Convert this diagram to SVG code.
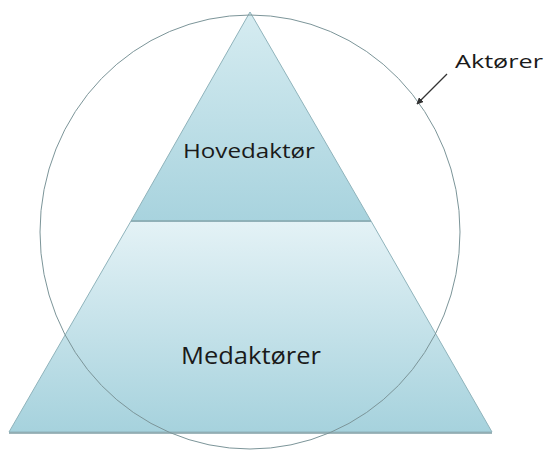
<svg xmlns="http://www.w3.org/2000/svg" width="548" height="454" viewBox="0 0 548 454">
<defs>
<linearGradient id="gTop" x1="0" y1="0" x2="0" y2="1">
<stop offset="0" stop-color="#d6ecf1"/>
<stop offset="1" stop-color="#a8d3de"/>
</linearGradient>
<linearGradient id="gBot" x1="0" y1="0" x2="0" y2="1">
<stop offset="0" stop-color="#e4f2f6"/>
<stop offset="1" stop-color="#a6d2dd"/>
</linearGradient>
<marker id="arr" viewBox="0 0 10 10" refX="9" refY="5" markerWidth="7" markerHeight="7" orient="auto" markerUnits="userSpaceOnUse">
<path d="M0,0 L10,5 L0,10 z" fill="#333"/>
</marker>
<style>
.lbl{font-family:"Open Sans","Liberation Sans",sans-serif;fill:#1a1a1a;text-anchor:middle}
.edge{stroke:#8fb3bb;stroke-width:1}
</style>
</defs>
<g id="medaktorer">
<polygon points="131,221 371,221 492,432 9,432" fill="url(#gBot)" class="edge"/>
<line x1="9" y1="433" x2="492" y2="433" stroke="#7f9ea5" stroke-width="1.5"/>
<text class="lbl" x="251" y="364" font-size="24" textLength="140" lengthAdjust="spacingAndGlyphs">Medaktører</text>
</g>
<g id="hovedaktor">
<polygon points="250,12 371,221 131,221" fill="url(#gTop)" class="edge"/>
<line x1="131" y1="221" x2="371" y2="221" stroke="#7f9ea5" stroke-width="1"/>
<text class="lbl" x="249" y="158" font-size="20" textLength="132" lengthAdjust="spacingAndGlyphs">Hovedaktør</text>
</g>
<g id="aktorer">
<ellipse cx="250" cy="232" rx="210" ry="217" fill="none" stroke="#7c9599" stroke-width="1"/>
<text class="lbl" x="499" y="68" font-size="19" textLength="88" lengthAdjust="spacingAndGlyphs">Aktører</text>
</g>
<g id="connectors">
<line x1="447" y1="74" x2="417" y2="104" stroke="#333" stroke-width="1.2" marker-end="url(#arr)"/>
</g>
</svg>
